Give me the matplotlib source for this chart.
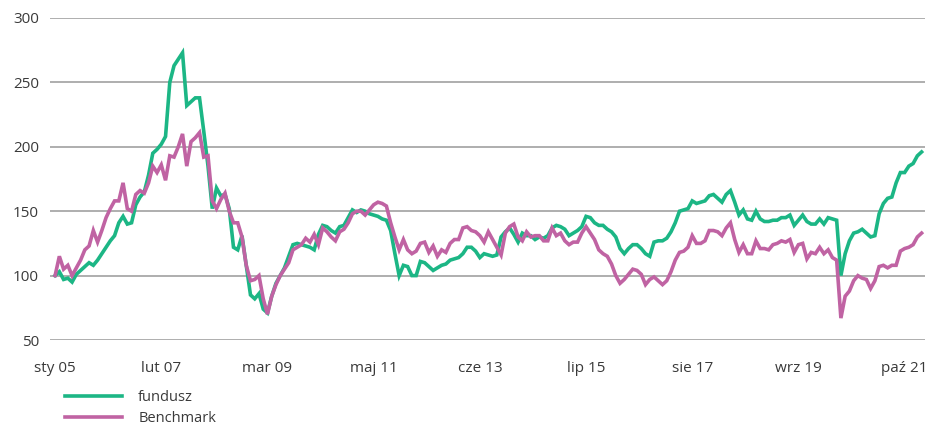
import matplotlib
matplotlib.use("Agg")
import matplotlib.pyplot as plt

# monthly index values, Jan 2005 = 100
fundusz = [
    100, 103, 97, 98, 95, 101, 104, 107, 110, 108,
    112, 117, 122, 127, 131, 141, 146, 140, 141, 155,
    161, 165, 178, 195, 198, 202, 208, 250, 263, 268,
    273, 232, 235, 238, 238, 212, 185, 152, 168, 162,
    163, 152, 122, 120, 131, 108, 85, 82, 86, 74,
    71, 84, 94, 100, 106, 115, 124, 125, 124, 123,
    122, 120, 132, 139, 138, 135, 133, 138, 139, 145,
    151, 149, 151, 150, 148, 147, 146, 144, 143, 135,
    117, 100, 108, 107, 100, 100, 111, 110, 107, 104,
    106, 108, 109, 112, 113, 114, 117, 122, 122, 119,
    114, 117, 116, 115, 116, 130, 134, 137, 132, 126,
    133, 131, 131, 128, 130, 129, 131, 137, 139, 138,
    136, 131, 133, 135, 138, 146, 145, 141, 139, 139,
    136, 134, 130, 121, 117, 121, 124, 124, 121, 117,
    115, 126, 127, 127, 129, 134, 141, 150, 151, 152,
    158, 156, 157, 158, 162, 163, 160, 157, 163, 166,
    157, 147, 151, 144, 143, 150, 144, 142, 142, 143,
    143, 145, 145, 147, 139, 143, 147, 142, 140, 140,
    144, 140, 145, 144, 143, 100, 117, 127, 133, 134,
    136, 133, 130, 131, 148, 156, 160, 161, 172, 180,
    180, 185, 187, 193, 196,
]
benchmark = [
    100, 115, 105, 108, 100, 106, 112, 120, 123, 135,
    126, 135, 145, 152, 158, 158, 172, 152, 150, 163,
    166, 164, 172, 185, 180, 186, 174, 193, 192, 200,
    210, 185, 204, 207, 211, 192, 193, 158, 152, 159,
    164, 150, 141, 141, 130, 108, 96, 97, 100, 82,
    70, 84, 93, 100, 105, 110, 120, 122, 124, 129,
    126, 132, 124, 137, 134, 130, 127, 134, 136, 141,
    148, 150, 150, 147, 151, 155, 157, 156, 154, 141,
    130, 120, 128, 120, 117, 119, 125, 126, 118, 123,
    115, 120, 118, 125, 128, 128, 137, 138, 135, 134,
    131, 126, 134, 128, 122, 116, 133, 138, 140, 130,
    127, 134, 130, 131, 131, 127, 127, 137, 131, 133,
    127, 124, 126, 126, 133, 138, 133, 128, 120, 117,
    115, 109, 100, 94, 97, 101, 105, 104, 101, 93,
    97, 99, 96, 93, 96, 103, 112, 118, 119, 122,
    131, 125, 125, 127, 135, 135, 134, 131, 137, 141,
    128, 118, 124, 117, 117, 127, 121, 121, 120, 124,
    125, 127, 126, 128, 118, 124, 125, 113, 118, 117,
    122, 117, 120, 114, 112, 67, 84, 88, 96, 100,
    98, 97, 90, 96, 107, 108, 106, 108, 108, 119,
    121, 122, 124, 130, 133,
]
tick_labels = ["sty 05", "lut 07", "mar 09", "maj 11", "cze 13",
               "lip 15", "sie 17", "wrz 19", "paź 21"]
tick_step = 25
y_ticks = [50, 100, 150, 200, 250, 300]

GREEN = "#1cb685"
PINK = "#c063a3"
TXT = "#3a3a3a"

plt.rcParams["font.family"] = ["Open Sans", "DejaVu Sans"]

fig = plt.figure(figsize=(9.3, 4.28), dpi=100)
ax = fig.add_axes([50 / 930, 1 - 340 / 428, 875 / 930, 322 / 428])

x = list(range(len(fundusz)))
ax.plot(x, fundusz, color=GREEN, lw=2.6, label="fundusz", solid_joinstyle="miter")
ax.plot(x, benchmark, color=PINK, lw=2.6, label="Benchmark", solid_joinstyle="miter")

ax.set_ylim(50, 300)
ax.set_xlim(-1.2, 204.8)
ax.set_yticks(y_ticks)
ax.set_xticks(range(0, tick_step * len(tick_labels), tick_step))
ax.set_xticklabels(tick_labels)
ax.grid(axis="y", color="#a8a8a8", lw=1.3)
ax.set_axisbelow(True)
for s in ax.spines.values():
    s.set_visible(False)
ax.tick_params(length=0, labelsize=11, colors=TXT)
ax.tick_params(axis="y", pad=8)
ax.tick_params(axis="x", pad=15)

fig.legend(loc="upper left", bbox_to_anchor=(58 / 930, 1 - 383 / 428),
           frameon=False, fontsize=10.5, handlelength=3.9, handletextpad=1.1,
           labelspacing=0.4, borderpad=0, labelcolor=TXT)

fig.savefig("out.png", dpi=100)
